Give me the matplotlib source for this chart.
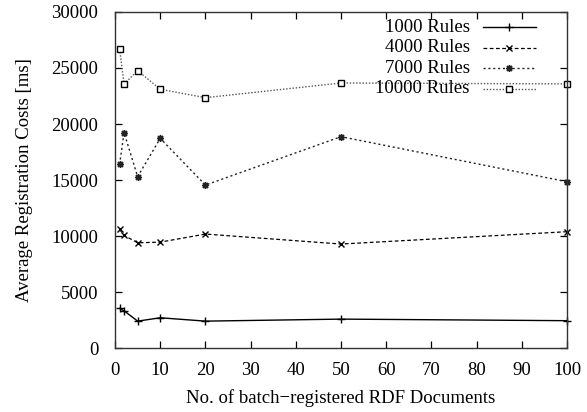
import matplotlib.pyplot as plt
from matplotlib.lines import Line2D

plt.rcParams['font.family'] = ['Liberation Serif', 'DejaVu Serif']
plt.rcParams['font.size'] = 13.5

# batch sizes
batch = [1, 2, 5, 10, 20, 50, 100]

# average registration costs [ms]
rules_1000 = [3540, 3330, 2410, 2710, 2410, 2590, 2450]
rules_4000 = [10600, 10060, 9400, 9460, 10180, 9290, 10390]
rules_7000 = [16400, 19220, 15300, 18720, 14550, 18870, 14850]
rules_10000 = [26700, 23570, 24760, 23100, 22350, 23660, 23580]

labels = ['1000 Rules', '4000 Rules', '7000 Rules', '10000 Rules']

fig = plt.figure(figsize=(5.87, 4.12), dpi=100)
ax = fig.add_axes([0.196, 0.155, 0.770, 0.816])

styles = [
    dict(color='black', linestyle='-', marker='+', markersize=6, lw=1.0),
    dict(color='black', linestyle=(0, (3, 2)), marker='x', markersize=5, lw=0.9),
    dict(color='#222222', linestyle=(0, (1.5, 2)), marker=(8, 2, 0), markersize=5, lw=1.0),
    dict(color='#555555', linestyle=(0, (1, 1.3)), marker='s', markersize=5,
         markerfacecolor='white', markeredgecolor='black', lw=1.0),
]
series = [rules_1000, rules_4000, rules_7000, rules_10000]

for ys, st in zip(series, styles):
    ax.plot(batch, ys, clip_on=False, **st)

ax.set_xlim(0, 100)
ax.set_ylim(0, 30000)
ax.set_xticks(range(0, 101, 10))
ax.set_yticks(range(0, 30001, 5000))
ax.tick_params(axis='x', pad=10)
ax.tick_params(axis='y', pad=12)
ax.tick_params(direction='in', top=True, right=True, length=5, width=0.9)
for s in ax.spines.values():
    s.set_linewidth(1.0)
    s.set_color('#333333')

ax.set_xlabel('No. of batch\u2212registered RDF Documents', labelpad=7)
ax.set_ylabel('Average Registration Costs [ms]', labelpad=13)

# gnuplot-style key: right-aligned text, sample to the right
for i, (lab, st) in enumerate(zip(labels, styles)):
    yk = 0.955 - i * 0.061
    ax.text(0.785, yk, lab, transform=ax.transAxes, ha='right', va='center')
    ax.add_line(Line2D([0.814, 0.931], [yk, yk], transform=ax.transAxes,
                       linestyle=st['linestyle'], color=st['color'], lw=st['lw']))
    mk = {k: v for k, v in st.items() if k.startswith('marker')}
    ax.add_line(Line2D([0.872], [yk], transform=ax.transAxes, linestyle='none',
                       color=st['color'], **mk))

fig.savefig('out.png', dpi=100)
